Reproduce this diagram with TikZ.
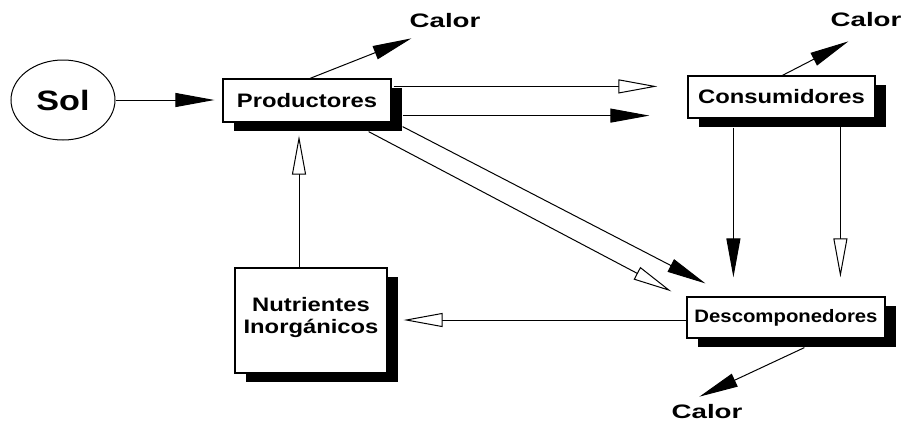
\documentclass[tikz,border=0pt]{standalone}
\usepackage{fontspec}
\setmainfont{Liberation Sans}
\newfontfamily\fa[FakeStretch=1.22]{Liberation Sans}
\newfontfamily\fcal[FakeStretch=1.42]{Liberation Sans}
\newfontfamily\fdes[FakeStretch=1.13]{Liberation Sans}
\usetikzlibrary{shapes.geometric,shadows,arrows.meta,calc}
\tikzset{
  x=1pt, y=-1pt,
  boxnode/.style={draw, line width=1.2pt, fill=white, inner sep=0pt,
    general shadow={fill=black, shadow xshift=11pt, shadow yshift=-9pt},
    font=\fa\bfseries\fontsize{19.5}{23}\selectfont, align=center},
  calornode/.style={inner sep=0pt, font=\fcal\bfseries\fontsize{19.5}{23}\selectfont},
  conn/.style={line width=1pt},
  fullarr/.style={conn, -{Triangle[length=39pt, width=14pt]}},
  openarr/.style={conn, -{Triangle[open, length=39pt, width=14pt, fill=white]}},
}
\begin{document}
\begin{tikzpicture}
\useasboundingbox (0,0) rectangle (907,426);
\node[draw, ellipse, line width=1pt, minimum width=104pt, minimum height=80pt, inner sep=0pt,
  font=\fa\bfseries\fontsize{28}{32}\selectfont] (sol) at (63,100) {Sol};
\node[boxnode, minimum width=168pt, minimum height=43pt] (prod) at (307,100.5) {Productores};
\node[boxnode, minimum width=187pt, minimum height=42pt] (cons) at (781.5,97) {Consumidores};
\node[boxnode, minimum width=198pt, minimum height=41pt,
  font=\fdes\bfseries\fontsize{18}{22}\selectfont] (desc) at (786,317.5) {Descomponedores};
\node[boxnode, minimum width=152pt, minimum height=105pt] (nutr) at (311,320.5)
  {Nutrientes\\[-1pt]Inorgánicos\\[-12pt]};
\node[calornode] (c1) at (445,21) {Calor};
\node[calornode] (c2) at (866,20) {Calor};
\node[calornode] (c3) at (707,412) {Calor};

% helper coordinates
\coordinate (pc1) at ($(prod.north east)+(2,8)$);
\coordinate (pc2) at ($(prod.south east)+(11,-7)$);
\coordinate (cd1) at ($(cons.south west)+(46,9)$);
\coordinate (cd2) at ($(cons.south west)+(153,0)$);
\coordinate (dn) at ($(desc.west)+(0,2.5)$);
\coordinate (np) at ($(nutr.north)+(-12,0)$);

% Sol -> Productores
\draw[fullarr, shorten >=8pt] (sol.east) -- (sol.east -| prod.west);
% Productores -> Consumidores
\draw[openarr, shorten >=30pt] (pc1) -- (pc1 -| cons.west);
\draw[fullarr, shorten >=38pt] (pc2) -- (pc2 -| cons.west);
% Productores -> Descomponedores
\draw[fullarr] ($(prod.south east)+(11,4)$) -- ($(desc.north west)+(19,-13)$);
\draw[openarr] ($(prod.south east)+(-23,9)$) -- ($(desc.north west)+(-15,-5)$);
% Consumidores -> Descomponedores
\draw[fullarr, shorten >=19pt] (cd1) -- (cd1 |- desc.north);
\draw[openarr, shorten >=19pt] (cd2) -- (cd2 |- desc.north);
% Descomponedores -> Nutrientes
\draw[openarr, shorten >=16pt] (dn) -- (dn -| nutr.east);
% Nutrientes -> Productores
\draw[openarr, shorten >=13pt] (np) -- (np |- prod.south);
% Calor
\draw[fullarr] ($(prod.north)+(3,0)$) -- ($(c1.south west)+(2,10)$);
\draw[fullarr] ($(cons.north west)+(95,0)$) -- ($(c2.south west)+(18,14)$);
\draw[fullarr] ($(desc.south west)+(118,9)$) -- ($(c3.north west)+(28,-8)$);
\end{tikzpicture}
\end{document}
